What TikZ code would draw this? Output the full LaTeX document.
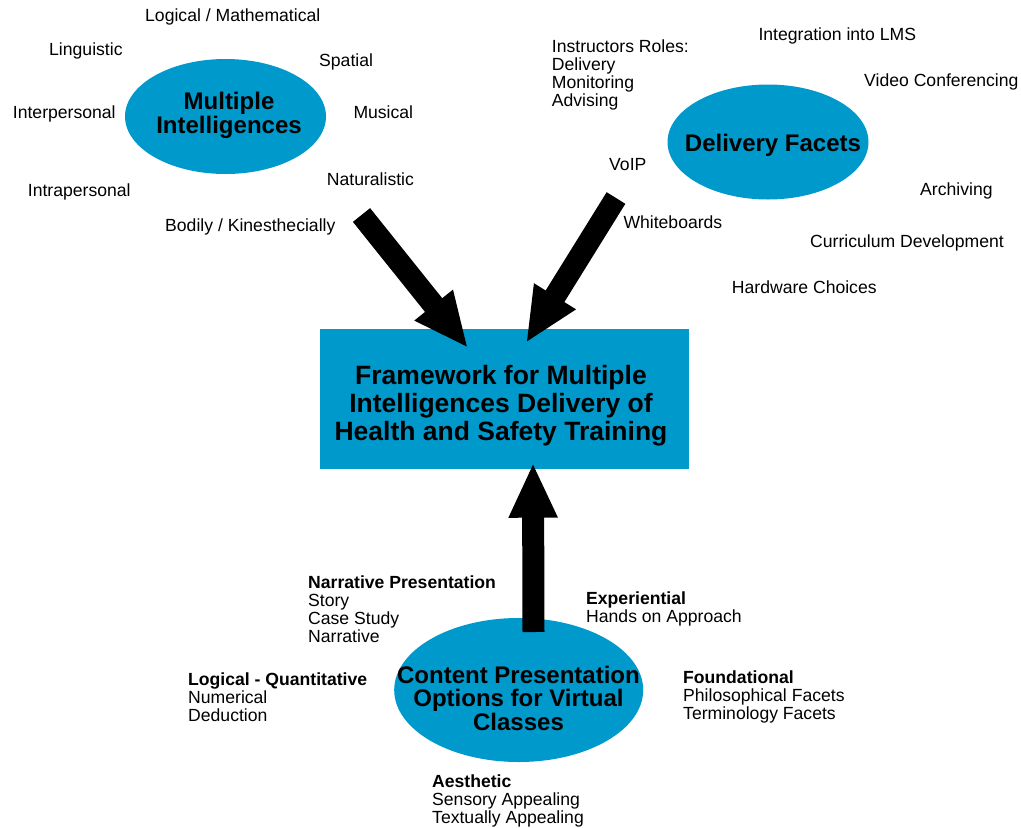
\documentclass[tikz,border=0pt]{standalone}
\usepackage{fontspec}
\setmainfont{Liberation Sans}
\usetikzlibrary{shapes.geometric,arrows.meta}
\definecolor{fwblue}{RGB}{0,153,204}
\begin{document}
\begin{tikzpicture}[x=1pt,y=-1pt,
  lbl/.style={inner sep=0pt, anchor=base west, align=left, font=\fontsize{17.6}{18}\selectfont},
  bubble/.style={ellipse, fill=fwblue, draw=none, inner sep=0pt},
  ttl/.style={inner sep=0pt, anchor=base, align=center, font=\bfseries\fontsize{24}{24}\selectfont},
  bigarrow/.style={line width=22pt, -{Triangle[length=55pt,width=45pt]}}]
\useasboundingbox (0,0) rectangle (1021,828);

% shapes
\node[bubble, minimum width=201pt, minimum height=115pt] (mi) at (225.5,116.5) {};
\node[bubble, minimum width=201pt, minimum height=115pt] (df) at (768,142) {};
\node[bubble, minimum width=249pt, minimum height=144pt] (cp) at (518.7,690) {};
\node[fill=fwblue, draw=none, inner sep=0pt, minimum width=369pt, minimum height=140pt] (fw) at (504.5,399) {};

% arrows
\coordinate (tailL) at (361.5,215);
\coordinate (tipL) at (468,348);
\coordinate (tailR) at (616,198);
\coordinate (tipR) at (526,343);
\coordinate (tailB) at (533.5,632);
\coordinate (tipB) at (533,462.7);
\draw[bigarrow] (tailL) -- (tipL);
\draw[bigarrow] (tailR) -- (tipR);
\draw[bigarrow] (tailB) -- (tipB);

% titles (base anchor = baseline of last line)
\node[ttl] (mit) at (229,133.3) {Multiple\\Intelligences};
\node[ttl] (dft) at (773,151.7) {Delivery Facets};
\node[ttl, font=\bfseries\fontsize{26.5}{28}\selectfont] (fwt) at (501,440) {Framework for Multiple\\Intelligences Delivery of\\Health and Safety Training};
\node[ttl, font=\bfseries\fontsize{24}{23.5}\selectfont] (cpt) at (518.5,730) {Content Presentation\\Options for Virtual\\Classes};

% multiple intelligences labels
\node[lbl] (l1) at (145,21) {Logical / Mathematical};
\node[lbl] (l2) at (49,55) {Linguistic};
\node[lbl] (l3) at (319,66.7) {Spatial};
\node[lbl] (l4) at (12.7,118.3) {Interpersonal};
\node[lbl] (l5) at (353.3,118.3) {Musical};
\node[lbl] (l6) at (326.7,185) {Naturalistic};
\node[lbl] (l7) at (27.7,196.7) {Intrapersonal};
\node[lbl] (l8) at (165,231) {Bodily / Kinesthecially};

% delivery facets labels
\node[lbl] (d1) at (551.7,106.3) {Instructors Roles:\\Delivery\\Monitoring\\Advising};
\node[lbl] (d2) at (758.3,40.7) {Integration into LMS};
\node[lbl] (d3) at (864,86.7) {Video Conferencing};
\node[lbl] (d4) at (609,170.7) {VoIP};
\node[lbl] (d5) at (920,195) {Archiving};
\node[lbl] (d6) at (623.3,228.3) {Whiteboards};
\node[lbl] (d7) at (810,247.3) {Curriculum Development};
\node[lbl] (d8) at (731.7,293.3) {Hardware Choices};

% content presentation labels
\node[lbl] (c1) at (308,642.3) {\textbf{Narrative Presentation}\\Story\\Case Study\\Narrative};
\node[lbl] (c2) at (586,622) {\textbf{Experiential}\\Hands on Approach};
\node[lbl] (c3) at (188,721) {\textbf{Logical - Quantitative}\\Numerical\\Deduction};
\node[lbl] (c4) at (683,719) {\textbf{Foundational}\\Philosophical Facets\\Terminology Facets};
\node[lbl] (c5) at (432,823.3) {\textbf{Aesthetic}\\Sensory Appealing\\Textually Appealing};
\end{tikzpicture}
\end{document}
